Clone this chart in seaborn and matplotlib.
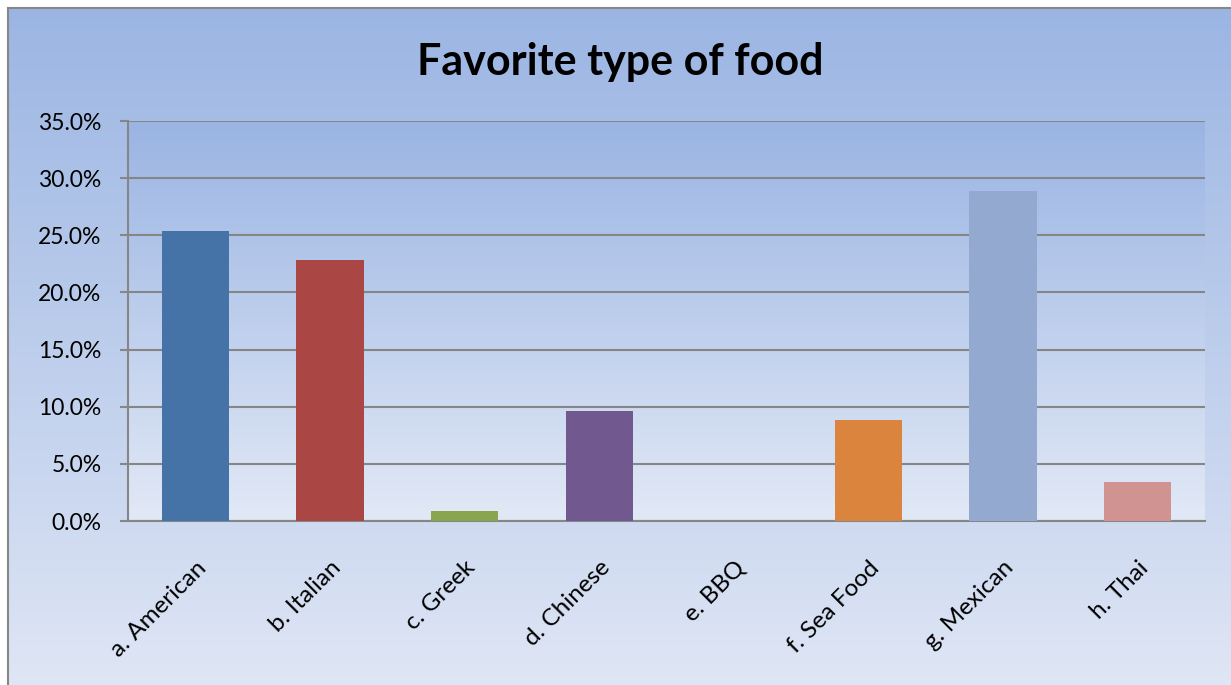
import numpy as np
import pandas as pd
import matplotlib
matplotlib.use("Agg")
import matplotlib.pyplot as plt
import matplotlib.ticker as mticker
from matplotlib.colors import LinearSegmentedColormap
from matplotlib.patches import Rectangle
import seaborn as sns

# data
categories = ["a. American", "b. Italian", "c. Greek", "d. Chinese",
              "e. BBQ", "f. Sea Food", "g. Mexican", "h. Thai"]
percent = [25.4, 22.8, 0.9, 9.6, 0.0, 8.8, 28.9, 3.4]
bar_colors = ["#4572A7", "#AA4643", "#89A54E", "#71588F",
              "#4198AF", "#DB843D", "#93A9CF", "#D19392"]
y_ticks = [0, 5, 10, 15, 20, 25, 30, 35]

df = pd.DataFrame({"food": categories, "pct": percent})

sns.set_theme(style="white")
plt.rcParams["font.family"] = ["Lato", "DejaVu Sans"]

W, H = 1231, 685
fig = plt.figure(figsize=(W / 100, H / 100), dpi=100)
fig.patch.set_facecolor("white")

# gradient background of the chart area
grad = np.linspace(0, 1, 256).reshape(-1, 1)
fig_cmap = LinearSegmentedColormap.from_list("figbg", ["#9BB5E3", "#DFE6F5"])
plot_cmap = LinearSegmentedColormap.from_list("plotbg", ["#9AB4E3", "#E2E9F6"])

bg = fig.add_axes([8 / W, 0, 1 - 8 / W, 1 - 8 / H], zorder=-2)
bg.imshow(grad, aspect="auto", cmap=fig_cmap, extent=[0, 1, 0, 1])
bg.set_axis_off()
fig.add_artist(Rectangle((8 / W, -0.1), 1.2, 1.1 - 8 / H, transform=fig.transFigure,
                         fill=False, edgecolor="#878787", linewidth=1.5, zorder=5))

pos = [128 / W, 1 - 521 / H, (1205 - 128) / W, (521 - 121) / H]
pbg = fig.add_axes(pos, zorder=-1)
pbg.imshow(grad, aspect="auto", cmap=plot_cmap, extent=[0, 1, 0, 1])
pbg.set_axis_off()

ax = fig.add_axes(pos, zorder=1)
ax.patch.set_visible(False)
sns.barplot(data=df, x="food", y="pct", hue="food", palette=bar_colors,
            width=0.5, legend=False, saturation=1, linewidth=0, ax=ax, zorder=3)

ax.set_xlim(-0.5, len(categories) - 0.5)
ax.set_ylim(0, 35)
ax.set_yticks(y_ticks)
ax.yaxis.set_major_formatter(mticker.FuncFormatter(lambda v, p: f"{v:.1f}%"))
ax.yaxis.grid(True, color="#868686", linewidth=1.5, zorder=1)
ax.set_axisbelow(True)

ax.set_xticks(range(len(categories)))
ax.set_xticklabels(categories, rotation=45, ha="right", rotation_mode="anchor")
ax.set_xticks(np.arange(-0.5, len(categories)), minor=True)
ax.tick_params(axis="x", which="major", length=0, pad=26, labelsize=17.5, colors="black")
ax.tick_params(axis="x", which="minor", length=6, width=1.5, color="#868686", direction="out")
ax.tick_params(axis="y", length=6, width=1.5, color="#868686", direction="out",
               labelsize=16.5, labelcolor="black", pad=13, left=True)

for s in ["top", "right"]:
    ax.spines[s].set_visible(False)
for s in ["left", "bottom"]:
    ax.spines[s].set_color("#868686")
    ax.spines[s].set_linewidth(1.5)

ax.set_xlabel("")
ax.set_ylabel("")
fig.text(620 / W, 1 - 62 / H, "Favorite type of food", ha="center", va="center",
         fontsize=31, fontweight="bold", color="black")

fig.savefig("out.png", dpi=100)
